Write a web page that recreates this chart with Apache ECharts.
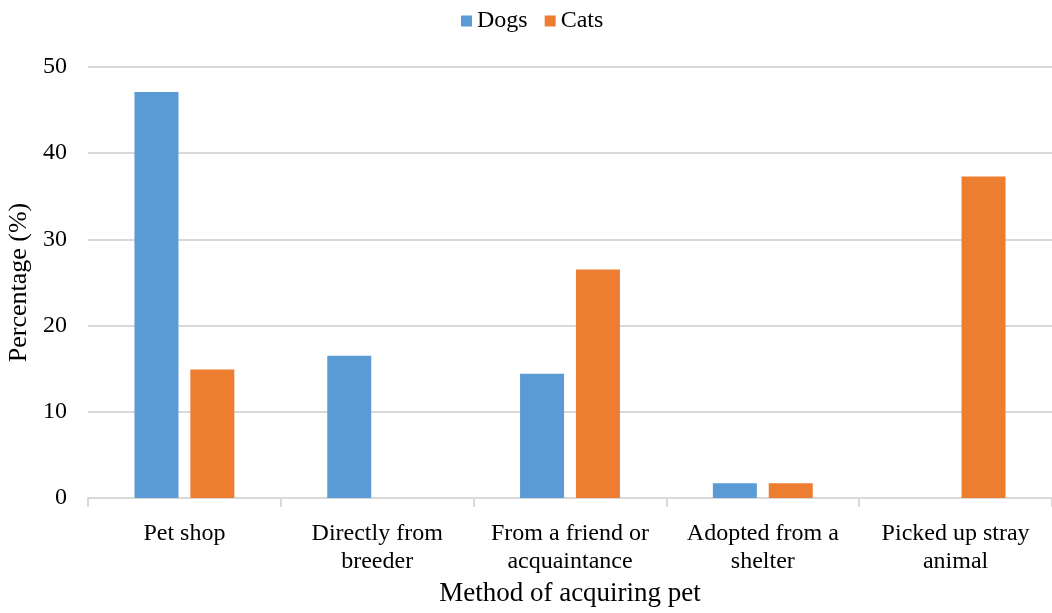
<!DOCTYPE html>
<html>
<head>
<meta charset="utf-8">
<script src="https://cdn.jsdelivr.net/npm/echarts@6/dist/echarts.min.js"></script>
<style>
  html, body { margin: 0; padding: 0; background: #fff; }
  #chart { width: 1052px; height: 613px; }
</style>
</head>
<body>
<div id="chart"></div>
<script>
// How pets were acquired, share of owners (%)
const categories = [
  'Pet shop',
  'Directly from\nbreeder',
  'From a friend or\nacquaintance',
  'Adopted from a\nshelter',
  'Picked up stray\nanimal'
];
const dogs = [47.1, 16.5, 14.4, 1.7, 0];
const cats = [14.9, 0, 26.5, 1.7, 37.3];
const yTicks = { min: 0, max: 50, interval: 10 };

const serif = 'Liberation Serif';
const gridColor = '#d9d9d9';
const catLabel = { fontFamily: serif, fontSize: 24, lineHeight: 28, color: '#000' };

const chart = echarts.init(document.getElementById('chart'), null, { renderer: 'canvas' });
chart.setOption({
  animation: false,
  backgroundColor: '#ffffff',
  textStyle: { fontFamily: serif, color: '#000' },
  legend: {
    top: 9,
    left: 461,
    padding: 0,
    icon: 'rect',
    itemWidth: 11,
    itemHeight: 11,
    itemGap: 17,
    textStyle: { fontFamily: serif, fontSize: 24, color: '#000' },
    data: ['Dogs', 'Cats']
  },
  grid: {
    left: 88, right: 0, top: 67, bottom: 115,
    containLabel: false,
    outerBoundsMode: 'none'
  },
  xAxis: {
    type: 'category',
    data: categories,
    name: 'Method of acquiring pet',
    nameLocation: 'middle',
    nameGap: 82,
    nameTextStyle: { fontFamily: serif, fontSize: 27, color: '#000' },
    axisLine: { show: true, lineStyle: { color: gridColor, width: 2 } },
    axisTick: { show: true, length: 9, lineStyle: { color: gridColor, width: 2 } },
    axisLabel: {
      interval: 0,
      margin: 22,
      ...catLabel,
      formatter: (v) => v.split('\n').map((s) => '{c|' + s + '}').join('\n'),
      rich: { c: catLabel }
    }
  },
  yAxis: {
    type: 'value',
    min: yTicks.min,
    max: yTicks.max,
    interval: yTicks.interval,
    name: 'Percentage (%)',
    nameLocation: 'middle',
    nameGap: 48,
    nameRotate: 90,
    nameTextStyle: { fontFamily: serif, fontSize: 26, color: '#000' },
    axisLine: { show: false },
    axisTick: { show: false },
    axisLabel: { margin: 21, fontFamily: serif, fontSize: 24, color: '#000' },
    splitLine: { show: true, lineStyle: { color: gridColor, width: 2 } }
  },
  series: [
    {
      name: 'Dogs',
      type: 'bar',
      data: dogs,
      barWidth: 44,
      barGap: '27%',
      itemStyle: { color: '#5B9BD5' }
    },
    {
      name: 'Cats',
      type: 'bar',
      data: cats,
      barWidth: 44,
      barGap: '27%',
      itemStyle: { color: '#ED7D31' }
    }
  ]
});
</script>
</body>
</html>
